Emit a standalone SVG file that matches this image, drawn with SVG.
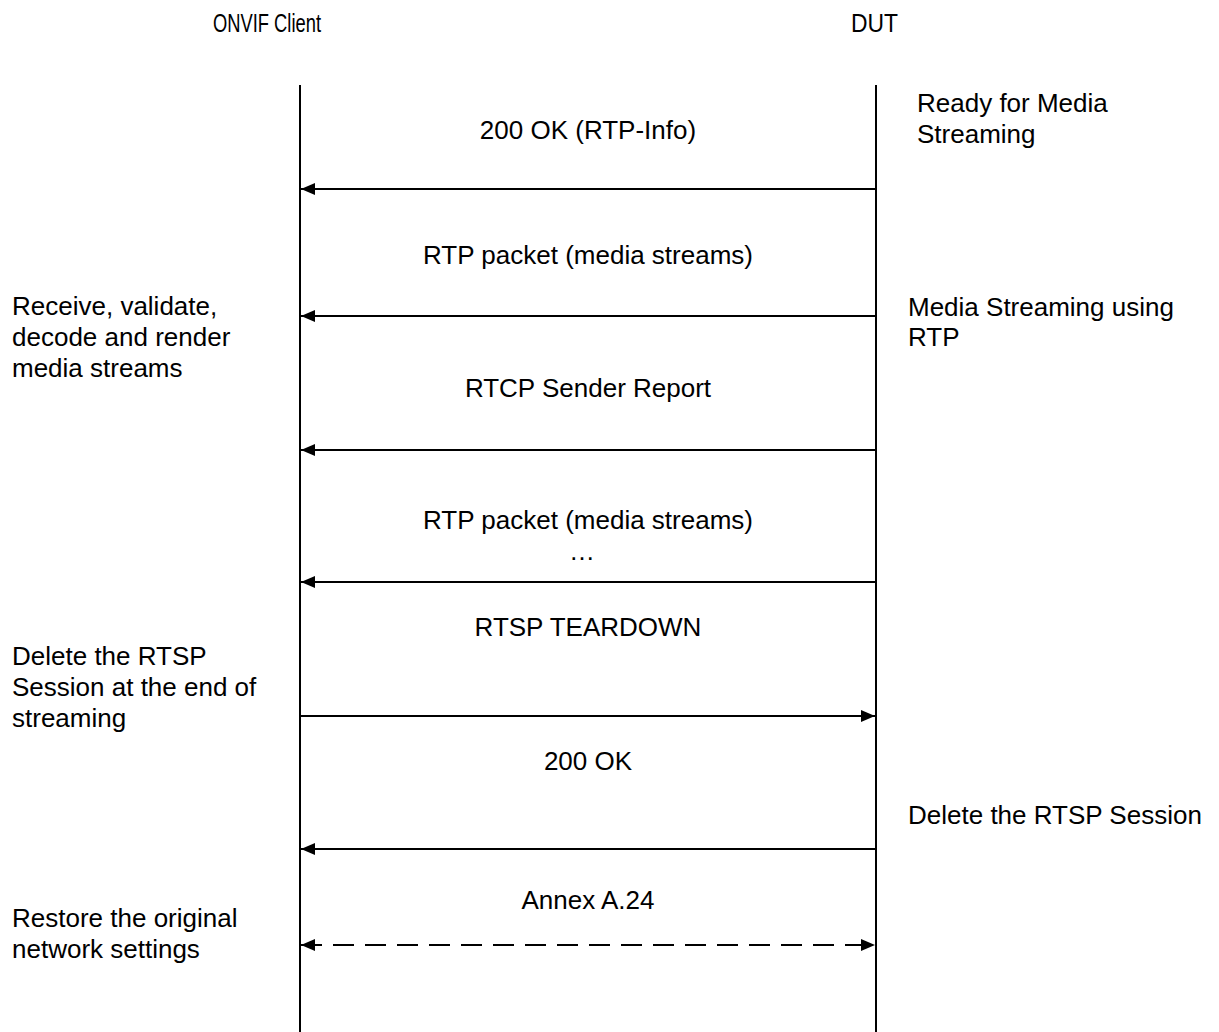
<svg xmlns="http://www.w3.org/2000/svg" width="1219" height="1032" viewBox="0 0 1219 1032">
<style>
text{font-family:"Liberation Sans",Arial,sans-serif;font-size:26px;fill:#000}
.c{text-anchor:middle}
.ll{stroke:#000;stroke-width:2;fill:none}
.ar{stroke:#000;stroke-width:2;fill:none}
.da{stroke-dasharray:21 11}
</style>
<defs>
<marker id="ah" viewBox="0 0 14 12" refX="14" refY="6" markerWidth="14" markerHeight="12" markerUnits="userSpaceOnUse" orient="auto-start-reverse">
<path d="M0,0 L14,6 L0,12 Z" fill="#000"/>
</marker>
</defs>
<rect width="1219" height="1032" fill="#fff"/>
<g id="client">
<text x="213" y="32" textLength="108" lengthAdjust="spacingAndGlyphs">ONVIF Client</text>
<line class="ll" x1="300" y1="85" x2="300" y2="1032"/>
</g>
<g id="dut">
<text x="851" y="32" textLength="47" lengthAdjust="spacingAndGlyphs">DUT</text>
<line class="ll" x1="876" y1="85" x2="876" y2="1032"/>
</g>
<g id="notes">
<text x="917" y="112">Ready for Media</text>
<text x="917" y="143">Streaming</text>
<text x="12" y="315">Receive, validate,</text>
<text x="12" y="346">decode and render</text>
<text x="12" y="377">media streams</text>
<text x="908" y="316">Media Streaming using</text>
<text x="908" y="346">RTP</text>
<text x="12" y="665">Delete the RTSP</text>
<text x="12" y="696">Session at the end of</text>
<text x="12" y="727">streaming</text>
<text x="908" y="824">Delete the RTSP Session</text>
<text x="12" y="927">Restore the original</text>
<text x="12" y="958">network settings</text>
</g>
<g id="connectors">
<line class="ar" x1="876" y1="189" x2="301" y2="189" marker-end="url(#ah)"/>
<text class="c" x="588" y="139">200 OK (RTP-Info)</text>
<line class="ar" x1="876" y1="316" x2="301" y2="316" marker-end="url(#ah)"/>
<text class="c" x="588" y="264">RTP packet (media streams)</text>
<line class="ar" x1="876" y1="450" x2="301" y2="450" marker-end="url(#ah)"/>
<text class="c" x="588" y="397">RTCP Sender Report</text>
<line class="ar" x1="876" y1="582" x2="301" y2="582" marker-end="url(#ah)"/>
<text class="c" x="588" y="529">RTP packet (media streams)</text>
<text class="c" x="582" y="560">…</text>
<line class="ar" x1="300" y1="716" x2="875" y2="716" marker-end="url(#ah)"/>
<text class="c" x="588" y="636">RTSP TEARDOWN</text>
<line class="ar" x1="876" y1="849" x2="301" y2="849" marker-end="url(#ah)"/>
<text class="c" x="588" y="770">200 OK</text>
<line class="ar da" x1="301" y1="945" x2="875" y2="945" marker-start="url(#ah)" marker-end="url(#ah)"/>
<text class="c" x="588" y="909">Annex A.24</text>
</g>
</svg>
